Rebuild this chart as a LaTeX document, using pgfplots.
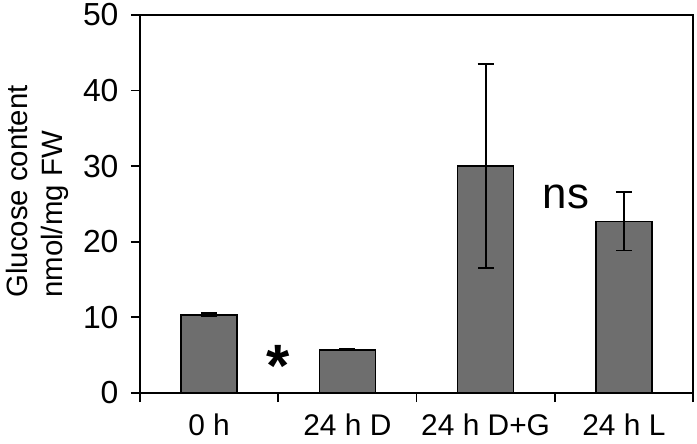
\documentclass[border=0pt]{standalone}
\usepackage{fontspec}
\setmainfont{Liberation Sans}
\usepackage{pgfplots}
\pgfplotsset{compat=1.18}
\definecolor{barfill}{RGB}{110,110,110}

\begin{document}
\begin{tikzpicture}
\begin{axis}[
  scale only axis, width=553bp, height=378bp,
  xmin=-0.5, xmax=3.5, ymin=0, ymax=50,
  ytick={0,10,...,50},
  xtick={0,1,2,3},
  xticklabels={0 h,24 h D,24 h D+G,24 h L},
  minor xtick={-0.5,0.5,1.5,2.5,3.5},
  major x tick style={draw=none},
  tick align=outside, major tick length=9bp, minor tick length=9bp,
  xtick pos=bottom, ytick pos=left,
  axis line style={line width=1.8bp},
  every tick/.style={line width=1.8bp, black},
  /pgf/number format/assume math mode=true,
  yticklabel style={font=\fontsize{32}{36}\selectfont, xshift=-9bp},
  xticklabel style={font=\fontsize{30}{36}\selectfont, yshift=-8bp},
  ylabel={Glucose content\\nmol/mg FW},
  ylabel style={font=\fontsize{29.5}{35}\selectfont, align=left,
                at={(axis description cs:-0.186,0.533)}, anchor=center},
  clip=false,
]
\addplot[ybar, bar width=56bp, fill=barfill, draw=black, line width=1.6bp,
  error bars/.cd, y dir=both, y explicit,
  error bar style={line width=1.8bp, black},
  error mark options={rotate=90, mark size=8bp, line width=1.8bp, black}]
  coordinates {
    (0,10.35) +- (0,0.2)
    (1,5.72)  +- (0,0.06)
    (2,30.05) +- (0,13.5)
    (3,22.7)  +- (0,3.85)
  };
\node[font=\fontsize{60}{60}\selectfont\bfseries, anchor=base, inner sep=0pt]
  at (axis cs:0.5,0.9) {*};
\node[font=\fontsize{44}{44}\selectfont, anchor=base, inner sep=0pt]
  at (axis cs:2.58,24.4) {ns};
\coordinate (O) at (rel axis cs:0,0);
\end{axis}
\pgfresetboundingbox
\path (O) ++(-140bp,-51bp) rectangle ++(697bp,444bp);
\end{tikzpicture}
\end{document}
